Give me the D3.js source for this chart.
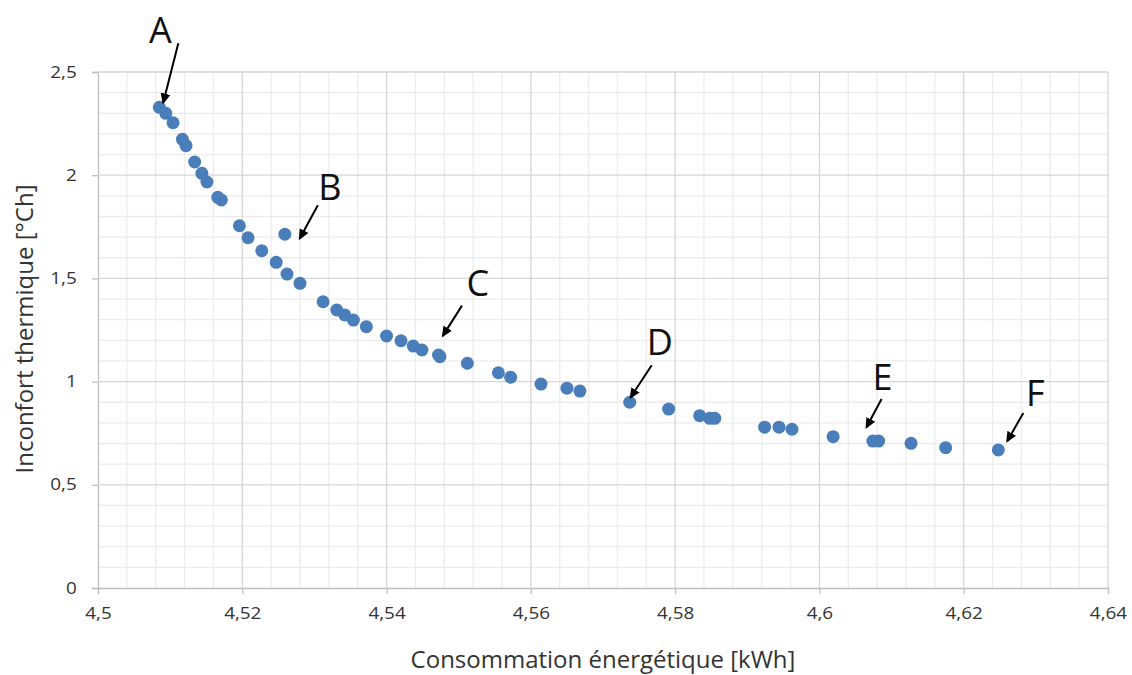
<!DOCTYPE html>
<html><head><meta charset="utf-8">
<script src="https://cdn.jsdelivr.net/npm/d3@7"></script>
<style>body{margin:0;background:#fff}svg{display:block}</style>
</head><body>
<svg id="c" width="1132" height="675"></svg>
<script>
const consumption = [4.5085,4.5094,4.5104,4.5117,4.5122,4.5134,4.5144,4.5151,4.5166,4.5171,4.5196,4.5208,4.5227,4.5247,4.5262,4.5280,4.5259,
  4.5312,4.5331,4.5342,4.5354,4.5372,4.5400,4.5420,4.5437,4.5449,4.5472,4.5474,4.5512,4.5555,4.5572,4.5614,4.5650,4.5668,
  4.5737,4.5791,4.5834,4.5848,4.5855,4.5924,4.5944,4.5962,4.6019,4.6074,4.6082,4.6127,4.6175,4.6248];
const discomfort = [2.329,2.300,2.254,2.174,2.143,2.064,2.009,1.967,1.893,1.880,1.755,1.697,1.634,1.578,1.521,1.476,1.714,
  1.387,1.347,1.323,1.298,1.266,1.221,1.198,1.172,1.153,1.129,1.121,1.089,1.043,1.021,0.988,0.968,0.954,
  0.900,0.867,0.835,0.822,0.822,0.779,0.779,0.769,0.733,0.712,0.712,0.701,0.680,0.669];
const xTicks = [4.5,4.52,4.54,4.56,4.58,4.6,4.62,4.64];
const yTicks = [0,0.5,1,1.5,2,2.5];
const labels = ["A","B","C","D","E","F"];
const labelIndex = [0,16,27,34,44,47];

const svg = d3.select("#c");
const x = d3.scaleLinear().domain([4.5,4.64]).range([98,1108]);
const y = d3.scaleLinear().domain([0,2.5]).range([588,72]);
const fmt = d => String(+d.toFixed(2)).replace(".", ",");

// minor grid
const xMinor = d3.range(0,36).map(i => 4.5 + i*0.004).filter((v,i)=> i%5!==0);
const yMinor = d3.range(0,26).map(i => i*0.1).filter((v,i)=> i%5!==0);
const g = svg.append("g");
g.selectAll(".vx").data(xMinor).join("line")
  .attr("x1",d=>x(d)).attr("x2",d=>x(d)).attr("y1",y(0)).attr("y2",y(2.5))
  .attr("stroke","#ececec").attr("stroke-width",1.3);
g.selectAll(".hy").data(yMinor).join("line")
  .attr("y1",d=>y(d)).attr("y2",d=>y(d)).attr("x1",x(4.5)).attr("x2",x(4.64))
  .attr("stroke","#ececec").attr("stroke-width",1.3);

// major grid via axes
const xAxis = svg.append("g").attr("transform",`translate(0,${y(0)})`)
  .call(d3.axisBottom(x).tickValues(xTicks).tickFormat(fmt).tickSize(6).tickPadding(14));
const yAxis = svg.append("g").attr("transform",`translate(${x(4.5)},0)`)
  .call(d3.axisLeft(y).tickValues(yTicks).tickFormat(fmt).tickSize(6).tickPadding(12));
[xAxis,yAxis].forEach(a=>{
  a.select(".domain").attr("stroke","#bfbfbf").attr("stroke-width",1.3);
  a.selectAll(".tick line").attr("stroke","#bfbfbf").attr("stroke-width",1.3);
  a.selectAll("text").attr("font-family","'Open Sans', sans-serif").attr("font-size",16).attr("fill","#333")
    .attr("transform","scale(1.18,1)");
});
svg.append("g").selectAll("line").data(xTicks.slice(1)).join("line")
  .attr("x1",d=>x(d)).attr("x2",d=>x(d)).attr("y1",y(0)).attr("y2",y(2.5))
  .attr("stroke","#d6d6d6").attr("stroke-width",1.3);
svg.append("g").selectAll("line").data(yTicks.slice(1)).join("line")
  .attr("y1",d=>y(d)).attr("y2",d=>y(d)).attr("x1",x(4.5)).attr("x2",x(4.64))
  .attr("stroke","#d6d6d6").attr("stroke-width",1.3);

// points
svg.append("g").selectAll("circle").data(consumption.map((c,i)=>[c,discomfort[i]])).join("circle")
  .attr("cx",d=>x(d[0])).attr("cy",d=>y(d[1])).attr("r",6.5).attr("fill","#4a7ebb");

// axis titles
svg.append("text").attr("x",603).attr("y",668).attr("text-anchor","middle")
  .attr("font-family","'Open Sans', sans-serif").attr("font-size",24).attr("fill","#333")
  .text("Consommation énergétique [kWh]");
svg.append("text").attr("transform","translate(33,329) rotate(-90)").attr("text-anchor","middle")
  .attr("font-family","'Open Sans', sans-serif").attr("font-size",24).attr("fill","#333")
  .text("Inconfort thermique [°Ch]");

// annotations: label offset and arrow relative to the pointed dot
svg.append("defs").append("marker").attr("id","ah").attr("viewBox","0 0 10 10")
  .attr("refX",8).attr("refY",5).attr("markerWidth",5.5).attr("markerHeight",5.5).attr("orient","auto")
  .attr("markerUnits","strokeWidth")
  .append("path").attr("d","M0,0.5 L10,5 L0,9.5 z").attr("fill","#000");
const ann = [
  {lx:1, ly:-77, ax1:19, ay1:-64, ax2:4, ay2:-5},
  {lx:45, ly:-47, ax1:33, ay1:-29, ax2:15, ay2:4},
  {lx:38, ly:-74, ax1:22, ay1:-51, ax2:3, ay2:-21},
  {lx:30, ly:-60, ax1:22, ay1:-37, ax2:1, ay2:-5},
  {lx:4, ly:-64, ax1:3, ay1:-42, ax2:-12, ay2:-14},
  {lx:37, ly:-57, ax1:25, ay1:-37, ax2:9, ay2:-9}
];
labels.forEach((t,i)=>{
  const k = labelIndex[i];
  const cx = x(consumption[k]), cy = y(discomfort[k]);
  const a = ann[i];
  svg.append("text").attr("x",cx+a.lx).attr("y",cy+a.ly+13).attr("text-anchor","middle")
    .attr("font-family","'Open Sans', sans-serif").attr("font-size",36).attr("fill","#111").text(t);
  svg.append("line").attr("x1",cx+a.ax1).attr("y1",cy+a.ay1).attr("x2",cx+a.ax2).attr("y2",cy+a.ay2)
    .attr("stroke","#000").attr("stroke-width",2).attr("marker-end","url(#ah)");
});
</script>
</body></html>
